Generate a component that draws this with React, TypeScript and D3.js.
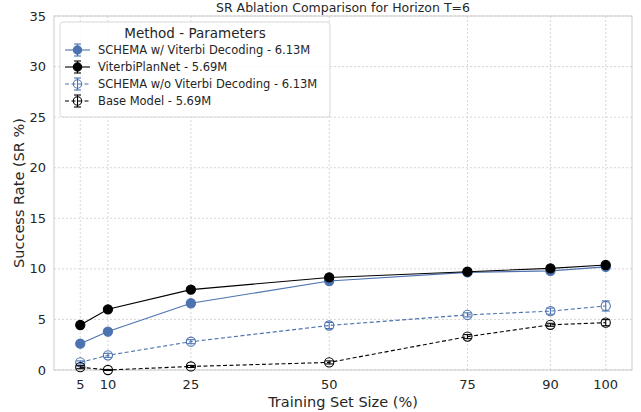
import React from 'react';
import * as d3 from 'd3';

const sizes = [5, 10, 25, 50, 75, 90, 100];
const yTicks = [0, 5, 10, 15, 20, 25, 30, 35];

const schemaViterbi = [2.6, 3.8, 6.6, 8.8, 9.65, 9.8, 10.2];
const schemaViterbiErr = [0.2, 0.2, 0.2, 0.2, 0.15, 0.2, 0.15];
const viterbiPlanNet = [4.45, 6.0, 7.95, 9.15, 9.72, 10.05, 10.38];
const viterbiPlanNetErr = [0.15, 0.15, 0.2, 0.15, 0.15, 0.15, 0.15];
const schemaNoViterbi = [0.75, 1.45, 2.8, 4.4, 5.45, 5.82, 6.33];
const schemaNoViterbiErr = [0.15, 0.2, 0.2, 0.3, 0.2, 0.3, 0.5];
const baseModel = [0.28, 0.0, 0.35, 0.75, 3.3, 4.47, 4.68];
const baseModelErr = [0.15, 0.05, 0.1, 0.15, 0.2, 0.15, 0.3];

const BLUE = '#4c72b0';

const series = [
  { name: 'SCHEMA w/ Viterbi Decoding - 6.13M', values: schemaViterbi, err: schemaViterbiErr, color: BLUE, dashed: false, filled: true },
  { name: 'ViterbiPlanNet - 5.69M', values: viterbiPlanNet, err: viterbiPlanNetErr, color: '#000000', dashed: false, filled: true },
  { name: 'SCHEMA w/o Viterbi Decoding - 6.13M', values: schemaNoViterbi, err: schemaNoViterbiErr, color: BLUE, dashed: true, filled: false },
  { name: 'Base Model - 5.69M', values: baseModel, err: baseModelErr, color: '#000000', dashed: true, filled: false },
];

const W = 641;
const H = 412;
const margin = { left: 54, right: 9, top: 16, bottom: 42 };

const App: React.FC = () => {
  const x = d3.scaleLinear().domain([0.25, 104.75]).range([margin.left, W - margin.right]);
  const y = d3.scaleLinear().domain([0, 35]).range([H - margin.bottom, margin.top]);
  const line = d3.line<number>().x((_, i) => x(sizes[i])).y((d) => y(d));
  const font = 'DejaVu Sans, sans-serif';

  const legendX = 60;
  const legendY = 22;

  return (
    <svg width={W} height={H} style={{ position: 'absolute', left: 0, top: 0, background: '#fff' }} fontFamily={font}>
      {/* grid */}
      {yTicks.map((t) => (
        <line key={'gy' + t} x1={margin.left} x2={W - margin.right} y1={y(t)} y2={y(t)} stroke="#cccccc" strokeWidth={0.8} strokeDasharray="2,2" />
      ))}
      {sizes.map((t) => (
        <line key={'gx' + t} x1={x(t)} x2={x(t)} y1={margin.top} y2={H - margin.bottom} stroke="#cccccc" strokeWidth={0.8} strokeDasharray="2,2" />
      ))}
      <rect x={margin.left} y={margin.top} width={W - margin.left - margin.right} height={H - margin.top - margin.bottom} fill="none" stroke="#cccccc" strokeWidth={1} />

      {/* ticks */}
      {yTicks.map((t) => (
        <text key={'ty' + t} x={margin.left - 8} y={y(t)} dy="0.35em" textAnchor="end" fontSize={13} fill="#262626">{t}</text>
      ))}
      {sizes.map((t) => (
        <text key={'tx' + t} x={x(t)} y={H - margin.bottom + 19} textAnchor="middle" fontSize={13} fill="#262626">{t}</text>
      ))}

      <text x={(margin.left + W - margin.right) / 2} y={H - 5} textAnchor="middle" fontSize={14.5} fill="#262626">Training Set Size (%)</text>
      <text transform={`translate(24,${(margin.top + H - margin.bottom) / 2}) rotate(-90)`} textAnchor="middle" fontSize={14.5} fill="#262626">Success Rate (SR %)</text>
      <text x={(margin.left + W - margin.right) / 2} y={12} textAnchor="middle" fontSize={12.5} fill="#262626">SR Ablation Comparison for Horizon T=6</text>

      {/* series */}
      {series.map((s) => (
        <g key={s.name}>
          <path d={line(s.values) || ''} fill="none" stroke={s.color} strokeWidth={1.1} strokeDasharray={s.dashed ? '4,2.5' : undefined} />
          {s.values.map((v, i) => {
            const cx = x(sizes[i]);
            const y1 = y(v + s.err[i]);
            const y2 = y(v - s.err[i]);
            return (
              <g key={i}>
                <line x1={cx} x2={cx} y1={y1} y2={y2} stroke={s.color} strokeWidth={1.1} />
                <line x1={cx - 4} x2={cx + 4} y1={y1} y2={y1} stroke={s.color} strokeWidth={1.1} />
                <line x1={cx - 4} x2={cx + 4} y1={y2} y2={y2} stroke={s.color} strokeWidth={1.1} />
                <circle cx={cx} cy={y(v)} r={4.6} fill={s.filled ? s.color : 'none'} stroke={s.color} strokeWidth={1.1} />
              </g>
            );
          })}
        </g>
      ))}

      {/* legend */}
      <rect x={legendX} y={legendY} width={270} height={95} rx={3} fill="#ffffff" fillOpacity={0.8} stroke="#d9d9d9" strokeWidth={1} />
      <text x={legendX + 135} y={legendY + 16} textAnchor="middle" fontSize={13.5} fill="#262626">Method - Parameters</text>
      {series.map((s, i) => {
        const ly = legendY + 28 + i * 17;
        const lx = legendX + 5;
        return (
          <g key={'lg' + s.name}>
            <line x1={lx} x2={lx + 25} y1={ly} y2={ly} stroke={s.color} strokeWidth={1.1} strokeDasharray={s.dashed ? '4,2.5' : undefined} />
            <line x1={lx + 12.5} x2={lx + 12.5} y1={ly - 6} y2={ly + 6} stroke={s.color} strokeWidth={1.1} />
            <line x1={lx + 9} x2={lx + 16} y1={ly - 6} y2={ly - 6} stroke={s.color} strokeWidth={1.1} />
            <line x1={lx + 9} x2={lx + 16} y1={ly + 6} y2={ly + 6} stroke={s.color} strokeWidth={1.1} />
            <circle cx={lx + 12.5} cy={ly} r={4.2} fill={s.filled ? s.color : 'none'} stroke={s.color} strokeWidth={1.1} />
            <text x={lx + 33} y={ly} dy="0.35em" fontSize={11.5} fill="#262626">{s.name}</text>
          </g>
        );
      })}
    </svg>
  );
};

export default App;
